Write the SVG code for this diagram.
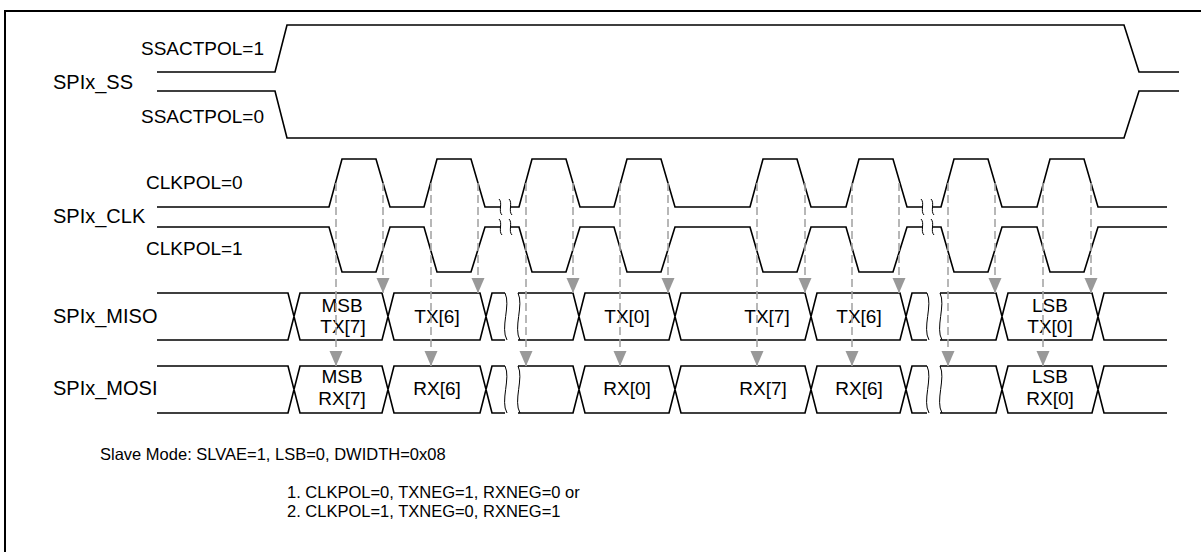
<svg xmlns="http://www.w3.org/2000/svg" width="1201" height="552" viewBox="0 0 1201 552">
<style>
.sig{fill:none;stroke:#000;stroke-width:1.6;stroke-linejoin:miter}
.brk{fill:none;stroke:#000;stroke-width:1}
.dash{fill:none;stroke:#a6a6a6;stroke-width:1.6;stroke-dasharray:8 4}
.lbl{font-family:"Liberation Sans",Arial,sans-serif;font-size:20px;fill:#000}
.sub{font-family:"Liberation Sans",Arial,sans-serif;font-size:19px;fill:#000}
.box{font-family:"Liberation Sans",Arial,sans-serif;font-size:19px;fill:#000;text-anchor:middle}
.note{font-family:"Liberation Sans",Arial,sans-serif;font-size:16.5px;fill:#000}
</style>
<defs>
<marker id="ah" markerUnits="userSpaceOnUse" markerWidth="15" markerHeight="14" viewBox="0 -7 15 14" refX="15" refY="0" orient="auto">
<path d="M0,-6.5 L15,0 L0,6.5 z" fill="#999"/>
</marker>
</defs>
<rect width="1201" height="552" fill="#fff"/>
<path d="M5,560 V11 H1215" fill="none" stroke="#000" stroke-width="2"/>

<g id="ss">
<text class="lbl" x="53" y="89">SPIx_SS</text>
<text class="sub" x="141" y="55">SSACTPOL=1</text>
<text class="sub" x="141" y="123">SSACTPOL=0</text>
<path class="sig" d="M157,72 H275 L287,25 H1124 L1139,72 H1179"/>
<path class="sig" d="M157,91 H275 L287,138 H1124 L1139,91 H1179"/>
</g>

<g id="clk">
<text class="lbl" x="53" y="223">SPIx_CLK</text>
<text class="sub" x="146" y="189">CLKPOL=0</text>
<text class="sub" x="146" y="255">CLKPOL=1</text>
<path class="sig" d="M157,207 H329 L342,159 H376 L390,207 H424 L437,159 H471 L485,207 H501 M511,207 H519 L532,159 H566 L580,207 H614 L627,159 H661 L675,207 H750 L763,159 H797 L811,207 H846 L859,159 H893 L907,207 H923 M933,207 H941 L954,159 H988 L1002,207 H1037 L1050,159 H1084 L1098,207 H1167"/>
<path class="sig" d="M157,227 H329 L342,272 H376 L390,227 H424 L437,272 H471 L485,227 H501 M511,227 H519 L532,272 H566 L580,227 H614 L627,272 H661 L675,227 H750 L763,272 H797 L811,227 H846 L859,272 H893 L907,227 H923 M933,227 H941 L954,272 H988 L1002,227 H1037 L1050,272 H1084 L1098,227 H1167"/>
<path class="brk" d="M499,199 C503,203 498,211 502,215 M509,199 C513,203 508,211 512,215 M499,219 C503,223 498,231 502,235 M509,219 C513,223 508,231 512,235 M921,199 C925,203 920,211 924,215 M931,199 C935,203 930,211 934,215 M921,219 C925,223 920,231 924,235 M931,219 C935,223 930,231 934,235"/>
</g>

<g id="miso">
<text class="lbl" x="53" y="323">SPIx_MISO</text>
<path class="sig" d="M157,293 H288 L300,340 H382 L394,293 H480 L492,340 H505 M157,340 H288 L300,293 H382 L394,340 H480 L492,293 H505 M518,293 H573 L585,340 H669 L681,293 H805 L817,340 H900 L912,293 H927 M518,340 H573 L585,293 H669 L681,340 H805 L817,293 H900 L912,340 H927 M940,293 H996 L1008,340 H1092 L1104,293 H1167 M940,340 H996 L1008,293 H1092 L1104,340 H1167"/>
<path class="brk" stroke-width="1.3" d="M505,293 C511,305 500,328 507,340 M518,293 C524,305 513,328 520,340 M927,293 C933,305 922,328 929,340 M940,293 C946,305 935,328 942,340"/>
<text class="box" x="342" y="312">MSB</text>
<text class="box" x="343" y="333">TX[7]</text>
<text class="box" x="437" y="323">TX[6]</text>
<text class="box" x="627" y="323">TX[0]</text>
<text class="box" x="767" y="323">TX[7]</text>
<text class="box" x="859" y="323">TX[6]</text>
<text class="box" x="1050" y="312">LSB</text>
<text class="box" x="1050" y="333">TX[0]</text>
</g>

<g id="mosi">
<text class="lbl" x="53" y="395">SPIx_MOSI</text>
<path class="sig" d="M157,366 H288 L300,413 H382 L394,366 H480 L492,413 H505 M157,413 H288 L300,366 H382 L394,413 H480 L492,366 H505 M518,366 H573 L585,413 H669 L681,366 H805 L817,413 H900 L912,366 H927 M518,413 H573 L585,366 H669 L681,413 H805 L817,366 H900 L912,413 H927 M940,366 H996 L1008,413 H1092 L1104,366 H1167 M940,413 H996 L1008,366 H1092 L1104,413 H1167"/>
<path class="brk" stroke-width="1.3" d="M505,366 C511,378 500,401 507,413 M518,366 C524,378 513,401 520,413 M927,366 C933,378 922,401 929,413 M940,366 C946,378 935,401 942,413"/>
<text class="box" x="342" y="383">MSB</text>
<text class="box" x="342" y="405">RX[7]</text>
<text class="box" x="437" y="395">RX[6]</text>
<text class="box" x="627" y="395">RX[0]</text>
<text class="box" x="763" y="395">RX[7]</text>
<text class="box" x="859" y="395">RX[6]</text>
<text class="box" x="1050" y="383">LSB</text>
<text class="box" x="1050" y="405">RX[0]</text>
</g>

<g id="connectors">
<path class="dash" marker-end="url(#ah)" d="M336,183 V366"/>
<path class="dash" marker-end="url(#ah)" d="M431,183 V366"/>
<path class="dash" marker-end="url(#ah)" d="M526,183 V366"/>
<path class="dash" marker-end="url(#ah)" d="M620,183 V366"/>
<path class="dash" marker-end="url(#ah)" d="M757,183 V366"/>
<path class="dash" marker-end="url(#ah)" d="M852,183 V366"/>
<path class="dash" marker-end="url(#ah)" d="M948,183 V366"/>
<path class="dash" marker-end="url(#ah)" d="M1043,183 V366"/>
<path class="dash" marker-end="url(#ah)" d="M383,183 V293"/>
<path class="dash" marker-end="url(#ah)" d="M478,183 V293"/>
<path class="dash" marker-end="url(#ah)" d="M573,183 V293"/>
<path class="dash" marker-end="url(#ah)" d="M668,183 V293"/>
<path class="dash" marker-end="url(#ah)" d="M805,183 V293"/>
<path class="dash" marker-end="url(#ah)" d="M899,183 V293"/>
<path class="dash" marker-end="url(#ah)" d="M995,183 V293"/>
<path class="dash" marker-end="url(#ah)" d="M1091,183 V293"/>
</g>

<g id="notes">
<text class="note" x="100" y="460">Slave Mode: SLVAE=1, LSB=0, DWIDTH=0x08</text>
<text class="note" x="287" y="498">1. CLKPOL=0, TXNEG=1, RXNEG=0 or</text>
<text class="note" x="287" y="517">2. CLKPOL=1, TXNEG=0, RXNEG=1</text>
</g>
</svg>
